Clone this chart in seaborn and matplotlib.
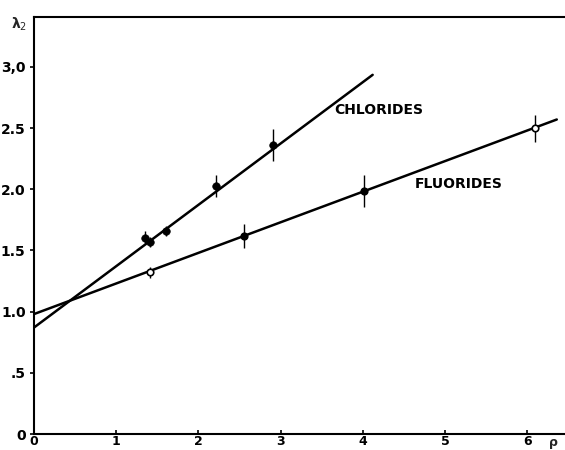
import matplotlib
matplotlib.use("Agg")
import matplotlib.pyplot as plt
import seaborn as sns
import pandas as pd

# ---- data ----
chl_x = [1.35, 1.41, 1.60, 2.21, 2.91]
chl_y = [1.605, 1.567, 1.66, 2.03, 2.36]
chl_err = [0.05, 0.04, 0.04, 0.09, 0.13]

flu_x = [1.41, 2.555, 4.01, 6.09]
flu_y = [1.32, 1.62, 1.985, 2.50]
flu_err = [0.045, 0.10, 0.13, 0.11]
flu_open = [True, False, False, True]

chl_line_x = [0.0, 4.12]
chl_line_y = [0.87, 2.935]
flu_line_x = [0.0, 6.36]
flu_line_y = [0.98, 2.57]

x_ticks = [0, 1, 2, 3, 4, 5, 6]
x_ticklabels = ["0", "1", "2", "3", "4", "5", "6"]
y_ticks = [0, 0.5, 1.0, 1.5, 2.0, 2.5, 3.0]
y_ticklabels = ["0", ".5", "1.0", "1.5", "2.0", "2.5", "3,0"]

sns.set_theme(style="ticks")
plt.rcParams['font.family'] = ['DejaVu Sans']

fig = plt.figure(figsize=(5.65, 4.5), dpi=100)
ax = fig.add_axes([34/565, 16/450, 531/565, 417.3/450])

lines = pd.DataFrame({
    "x": chl_line_x + flu_line_x,
    "y": chl_line_y + flu_line_y,
    "s": ["chl"] * len(chl_line_x) + ["flu"] * len(flu_line_x),
})
sns.lineplot(data=lines, x="x", y="y", units="s", estimator=None,
             color="black", lw=1.8, ax=ax, legend=False)

ax.errorbar(chl_x, chl_y, yerr=chl_err, fmt="none", ecolor="black",
            elinewidth=1.0, capsize=0)
ax.errorbar(flu_x, flu_y, yerr=flu_err, fmt="none", ecolor="black",
            elinewidth=1.0, capsize=0)

chl_df = pd.DataFrame({"x": chl_x, "y": chl_y})
sns.scatterplot(data=chl_df, x="x", y="y", color="black", s=30,
                edgecolor="black", ax=ax, zorder=5)
flu_df = pd.DataFrame({"x": flu_x, "y": flu_y, "open": flu_open})
for is_open, sub in flu_df.groupby("open"):
    sns.scatterplot(data=sub, x="x", y="y", s=22, linewidth=1.2,
                    color="white" if is_open else "black",
                    edgecolor="black", ax=ax, zorder=5)

ax.set_xlim(0, 6.46)
ax.set_ylim(0.012, 3.41)
ax.set_xticks(x_ticks)
ax.set_xticklabels(x_ticklabels)
ax.set_yticks(y_ticks)
ax.set_yticklabels(y_ticklabels)
ax.set_xlabel("")
ax.set_ylabel("")

for s in ["left", "bottom", "top"]:
    ax.spines[s].set_visible(True)
    ax.spines[s].set_linewidth(1.5)
    ax.spines[s].set_color("black")
ax.spines["right"].set_visible(False)

ax.tick_params(axis="x", direction="in", length=3, width=1.2, pad=1,
               labelsize=9, colors="black")
ax.tick_params(axis="y", direction="out", length=3, width=1.2, pad=3,
               labelsize=10, colors="black")
for lab in ax.get_xticklabels() + ax.get_yticklabels():
    lab.set_fontweight("bold")

ax.text(3.65, 2.646, "CHLORIDES", fontsize=10, fontweight="bold",
        ha="left", va="center", color="black")
ax.text(4.63, 2.04, "FLUORIDES", fontsize=10, fontweight="bold",
        ha="left", va="center", color="black")

fig.text(19/565, 1 - 24/450, "λ$_2$", fontsize=10, fontweight="bold",
         ha="center", va="center")
fig.text(553/565, 1 - 446/450, "ρ", fontsize=9, fontweight="bold",
         ha="center", va="baseline")

fig.savefig("out.png", dpi=100)
